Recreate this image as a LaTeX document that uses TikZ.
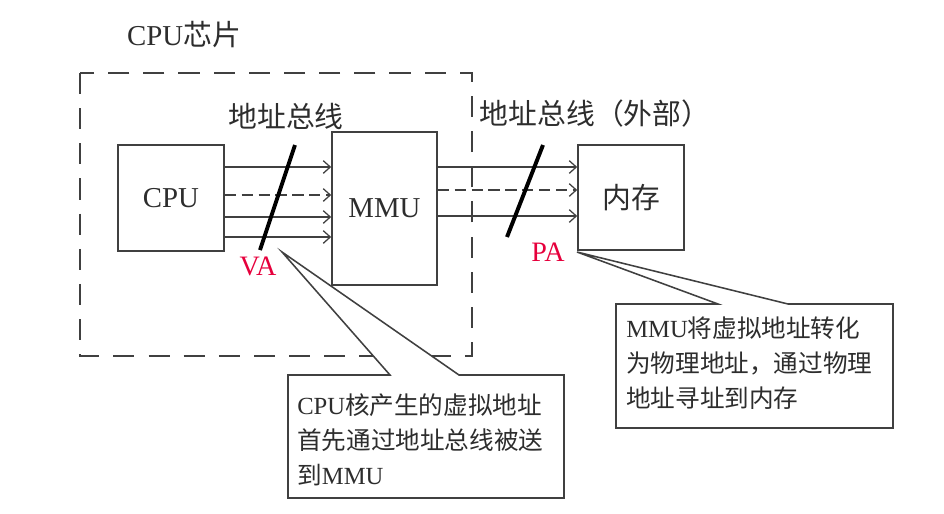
\documentclass[tikz,border=0pt]{standalone}
\usepackage{fontspec}
\setmainfont{Liberation Serif}
\newfontfamily\cjk{Noto Sans CJK SC}
\usetikzlibrary{arrows.meta}
\definecolor{linegray}{RGB}{64,64,64}
\definecolor{textgray}{RGB}{45,45,45}
\definecolor{addrred}{RGB}{230,0,60}
\tikzset{%
  box/.style     = {shape=rectangle, draw=linegray, line width=1.1pt,%
                    text=textgray, font=\fontsize{20.5}{24}\selectfont},%
  chip/.style    = {draw=linegray, line width=1.4pt, dash pattern=on 15pt off 10pt},%
  bus/.style     = {draw=linegray, line width=1pt,%
                    -{Straight Barb[length=5pt,width=9pt,line width=0.9pt]}},%
  busdash/.style = {dash pattern=on 8pt off 4pt},%
  busslash/.style= {draw=black, line width=2.8pt},%
  addr/.style    = {text=addrred, font=\fontsize{20}{24}\selectfont},%
  title/.style   = {text=textgray, font=\fontsize{20.5}{24}\selectfont},%
  callout/.style = {draw=linegray, line width=1.1pt, fill=white},%
  note/.style    = {text=textgray, align=left, inner sep=0pt,%
                    font=\fontsize{17.5}{25}\selectfont}%
}
\begin{document}
\begin{tikzpicture}[x=0.025cm,y=-0.025cm]
	\useasboundingbox (0,0) rectangle (944,513);
	% chip boundary
	\node[title] (chiplabel) at (184,35) {CPU{\cjk 芯片}};
	\node[box, minimum width=2.65cm, minimum height=2.65cm] (cpu) at (171,198) {CPU};
	\node[box, minimum width=2.625cm, minimum height=3.825cm] (mmu) at (384.5,208.5) {MMU};
	\node[box, minimum width=2.65cm, minimum height=2.625cm] (mem) at (631,197.5) {\cjk 内存};
	\foreach \y/\s in {167/solid,195/busdash,217/solid,237/solid}
		\draw[bus,\s] (cpu.east |- 0,\y) -- (mmu.west |- 0,\y);
	\foreach \y/\s in {167/solid,190/busdash,216/solid}
		\draw[bus,\s] (mmu.east |- 0,\y) -- (mem.west |- 0,\y);
	\draw[chip] (80,73) rectangle (472,356);
	\node[title] (vabus) at (286,116) {\cjk 地址总线};
	\node[title] (pabus) at (595,114) {\cjk 地址总线（外部）};
	\coordinate (vatop) at (295,145);
	\coordinate (vabot) at (260,250);
	\coordinate (patop) at (543,145);
	\coordinate (pabot) at (507,237);
	\draw[busslash] (vatop) -- (vabot);
	\draw[busslash] (patop) -- (pabot);
	\node[addr] (va) at (258,266) {VA};
	\node[addr] (pa) at (548,252) {PA};
	% callouts
	\coordinate (vatip) at (282,252);
	\coordinate (patip) at (577,252);
	\draw[callout] (288,375) -- (390,375) -- (vatip) -- (459,375) -- (564,375)
		-- (564,498) -- (288,498) -- cycle;
	\draw[callout] (616,304) -- (718,304) -- (patip) -- (788,304) -- (893,304)
		-- (893,428) -- (616,428) -- cycle;
	\node[note, anchor=west] (vanote) at (297,440)
		{CPU{\cjk 核产生的虚拟地址}\\{\cjk 首先通过地址总线被送}\\{\cjk 到}MMU};
	\node[note, anchor=west] (panote) at (626,363)
		{MMU{\cjk 将虚拟地址转化}\\{\cjk 为物理地址，通过物理}\\{\cjk 地址寻址到内存}};
\end{tikzpicture}
\end{document}
